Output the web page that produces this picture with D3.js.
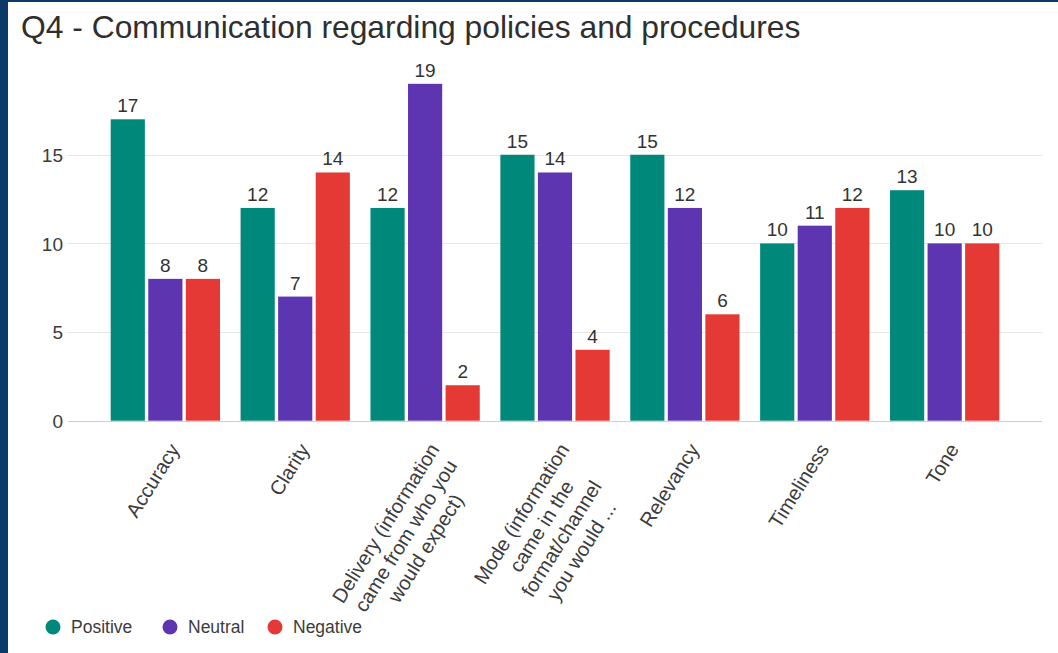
<!DOCTYPE html>
<html>
<head>
<meta charset="utf-8">
<script src="https://cdn.jsdelivr.net/npm/d3@7"></script>
<style>
  html, body { margin: 0; padding: 0; background: #ffffff; }
  svg { display: block; }
  text { font-family: "Liberation Sans", Arial, sans-serif; }
</style>
</head>
<body>
<svg id="chart" width="1058" height="653"></svg>
<script>
// Survey responses per communication aspect
const categories = [
  ["Accuracy"],
  ["Clarity"],
  ["Delivery (information", "came from who you", "would expect)"],
  ["Mode (information", "came in the", "format/channel", "you would ..."],
  ["Relevancy"],
  ["Timeliness"],
  ["Tone"]
];
const categoryKeys = ["Accuracy", "Clarity", "Delivery", "Mode", "Relevancy", "Timeliness", "Tone"];
const seriesNames = ["Positive", "Neutral", "Negative"];
const positive = [17, 12, 12, 15, 15, 10, 13];
const neutral  = [8, 7, 19, 14, 12, 11, 10];
const negative = [8, 14, 2, 4, 6, 12, 10];
const yTicks = [0, 5, 10, 15];

const seriesValues = [positive, neutral, negative];
const colors = ["#00897b", "#5e35b1", "#e53935"];

const svg = d3.select("#chart");
const W = 1058, H = 653;

// page frame: white card with a dark blue edge on the left and top
svg.append("rect").attr("width", W).attr("height", H).attr("fill", "#ffffff");
svg.append("rect").attr("x", 0).attr("y", 0).attr("width", 8).attr("height", H).attr("fill", "#0c3a68");
svg.append("rect").attr("x", 0).attr("y", 0).attr("width", W).attr("height", 2).attr("fill", "#0c3a68");

// title
svg.append("text")
  .attr("x", 21).attr("y", 38)
  .attr("font-size", 31.8)
  .attr("fill", "#2f2f2f")
  .text("Q4 - Communication regarding policies and procedures");

const plotLeft = 68, plotRight = 1042;
const x0 = d3.scaleBand()
  .domain(categoryKeys)
  .range([plotLeft, plotRight])
  .paddingInner(0.1586)
  .paddingOuter(0.3287);

const x1 = d3.scaleBand()
  .domain(seriesNames)
  .range([0, x0.bandwidth()])
  .paddingInner(0.09);

const y = d3.scaleLinear().domain([0, 20]).range([420.7, 66.1]);

// horizontal gridlines
svg.append("g").selectAll("line")
  .data(yTicks)
  .join("line")
  .attr("x1", plotLeft).attr("x2", plotRight)
  .attr("y1", d => Math.round(y(d)) + 0.5)
  .attr("y2", d => Math.round(y(d)) + 0.5)
  .attr("stroke", d => d === 0 ? "#cfcfcf" : "#e6e6e6")
  .attr("stroke-width", 1);

// y axis labels
const yAxis = d3.axisLeft(y).tickValues(yTicks).tickSize(0).tickPadding(0);
const gy = svg.append("g").attr("transform", "translate(63,0)").call(yAxis);
gy.select(".domain").remove();
gy.selectAll("text")
  .attr("font-family", "Liberation Sans, Arial, sans-serif")
  .attr("font-size", 19)
  .attr("fill", "#3c3c3c")
  .attr("dy", "0.35em");

// bars
const rows = categoryKeys.map((c, i) => ({
  key: c,
  values: seriesNames.map((s, j) => ({ series: s, value: seriesValues[j][i], color: colors[j] }))
}));

const groups = svg.append("g").selectAll("g")
  .data(rows)
  .join("g")
  .attr("transform", d => `translate(${x0(d.key)},0)`);

groups.selectAll("rect")
  .data(d => d.values)
  .join("rect")
  .attr("x", d => x1(d.series))
  .attr("width", x1.bandwidth())
  .attr("y", d => y(d.value))
  .attr("height", d => y(0) - y(d.value))
  .attr("fill", d => d.color);

groups.selectAll("text")
  .data(d => d.values)
  .join("text")
  .attr("x", d => x1(d.series) + x1.bandwidth() / 2)
  .attr("y", d => y(d.value) - 7)
  .attr("text-anchor", "middle")
  .attr("font-size", 19)
  .attr("fill", "#333333")
  .text(d => d.value);

// rotated, wrapped category labels
const angle = -58;
const lineH = 23.5;
const catFont = 20;
const labels = svg.append("g").selectAll("g")
  .data(categories.map((lines, i) => ({ key: categoryKeys[i], lines })))
  .join("g")
  .attr("transform", d => `translate(${x0(d.key) + x0.bandwidth() / 2 + 10},446) rotate(${angle})`);

labels.each(function(d) {
  const g = d3.select(this);
  // measure the widest line so every line centres on the same axis
  const probe = g.append("text").attr("font-size", catFont);
  let maxW = 0;
  d.lines.forEach(l => {
    probe.text(l);
    maxW = Math.max(maxW, probe.node().getComputedTextLength());
  });
  probe.remove();
  d.lines.forEach((l, k) => {
    g.append("text")
      .attr("x", -maxW / 2)
      .attr("y", k * lineH)
      .attr("dy", "0.3em")
      .attr("text-anchor", "middle")
      .attr("font-size", catFont)
      .attr("fill", "#3c3c3c")
      .text(l);
  });
});

// legend
const legendX = [53, 170, 275];
const legend = svg.append("g").selectAll("g")
  .data(seriesNames)
  .join("g")
  .attr("transform", (d, i) => `translate(${legendX[i]},627)`);
legend.append("circle").attr("r", 7.5).attr("fill", (d, i) => colors[i]);
legend.append("text")
  .attr("x", 18).attr("dy", "0.35em")
  .attr("font-size", 17.5)
  .attr("fill", "#3c3c3c")
  .text(d => d);
</script>
</body>
</html>
